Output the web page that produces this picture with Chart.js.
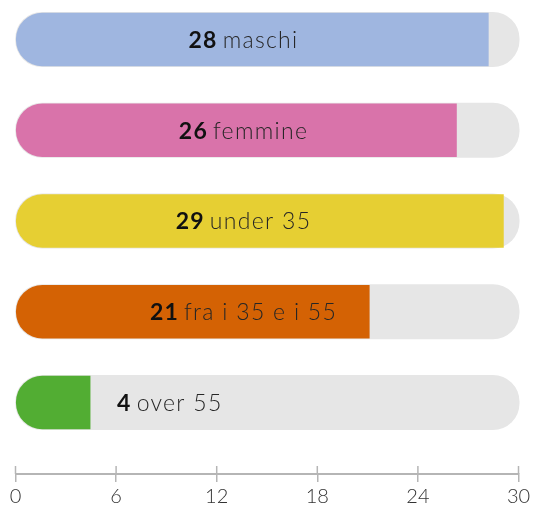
<!DOCTYPE html>
<html>
<head>
<meta charset="utf-8">
<script src="https://cdn.jsdelivr.net/npm/chart.js@4"></script>
<style>
    html, body { margin: 0; padding: 0; background: #ffffff; }
    #wrap { width: 534px; height: 508px; }
</style>
</head>
<body>
<div id="wrap"><canvas id="chart"></canvas></div>
<script>
// Data
const categories = ['maschi', 'femmine', 'under 35', 'fra i 35 e i 55', 'over 55'];
const values = [28.2, 26.3, 29.1, 21.1, 4.45];
const colors = ['#9fb6e0', '#d973aa', '#e6cf33', '#d46204', '#52ad33'];
const maxValue = 30;
const tickStep = 6;

const FONT = 'Lato, "Noto Sans", sans-serif';
const NUM_FONT = '700 23px ' + FONT;
const CAT_FONT = '300 23px ' + FONT;

// Labels inside the bars: bold rounded number + light category name
const barLabels = {
    id: 'barLabels',
    afterDatasetsDraw(chart) {
        const ctx = chart.ctx;
        const x = chart.scales.x;
        const y = chart.scales.y;
        ctx.save();
        ctx.textBaseline = 'middle';
        categories.forEach((cat, i) => {
            const num = String(Math.round(values[i]));
            ctx.letterSpacing = '1.2px';
            ctx.font = NUM_FONT;
            const wNum = ctx.measureText(num).width + 5;
            ctx.letterSpacing = '1.3px';
            ctx.font = CAT_FONT;
            const wCat = ctx.measureText(cat).width;
            const total = wNum + wCat;
            const end = x.getPixelForValue(values[i]);
            let start = x.getPixelForValue(13.6) - total / 2;
            if (end - x.left < total + 40) start = end + 27;
            const cy = y.getPixelForValue(i) + 1;
            ctx.fillStyle = '#111111';
            ctx.letterSpacing = '1.2px';
            ctx.font = NUM_FONT;
            ctx.fillText(num, start, cy);
            ctx.fillStyle = '#262626';
            ctx.letterSpacing = '1.3px';
            ctx.font = CAT_FONT;
            ctx.fillText(cat, start + wNum, cy);
        });
        ctx.restore();
    }
};

// Tick marks crossing the axis line (upper half)
const axisTicksUp = {
    id: 'axisTicksUp',
    afterDraw(chart) {
        const ctx = chart.ctx;
        const x = chart.scales.x;
        ctx.save();
        ctx.strokeStyle = '#b5b5b5';
        ctx.lineWidth = 1.5;
        x.ticks.forEach(t => {
            const px = x.getPixelForValue(t.value);
            ctx.beginPath();
            ctx.moveTo(px, x.top - 8);
            ctx.lineTo(px, x.top);
            ctx.stroke();
        });
        ctx.restore();
    }
};

const positions = categories.map((c, i) => i);

new Chart(document.getElementById('chart'), {
    type: 'bar',
    data: {
        datasets: [
            {
                data: positions.map(i => ({ x: values[i], y: i })),
                backgroundColor: colors,
                borderSkipped: false,
                borderRadius: { topLeft: 27, bottomLeft: 27, topRight: 0, bottomRight: 0 },
                barThickness: 53,
                grouped: false,
                order: 0,
                clip: false
            },
            {
                data: positions.map(i => ({ x: maxValue, y: i })),
                backgroundColor: '#e6e6e6',
                borderSkipped: false,
                borderRadius: 27,
                barThickness: 53,
                inflateAmount: 1,
                grouped: false,
                order: 1,
                clip: false
            }
        ]
    },
    options: {
        indexAxis: 'y',
        responsive: true,
        maintainAspectRatio: false,
        animation: false,
        layout: { padding: { left: 15.5, right: 15.5, top: 0, bottom: 0 } },
        plugins: {
            legend: { display: false },
            tooltip: { enabled: false }
        },
        scales: {
            y: {
                type: 'linear',
                reverse: true,
                offset: false,
                min: -0.435,
                max: 4.788,
                display: false
            },
            x: {
                type: 'linear',
                min: 0,
                max: maxValue,
                afterFit(scale) { scale.height = 34; },
                grid: {
                    drawOnChartArea: false,
                    drawTicks: true,
                    tickLength: 8,
                    color: '#b5b5b5',
                    lineWidth: 1.5
                },
                border: { display: true, color: '#b5b5b5', width: 2 },
                ticks: {
                    stepSize: tickStep,
                    padding: 3,
                    color: '#333333',
                    maxRotation: 0,
                    font: { family: FONT, size: 20, weight: 300 }
                }
            }
        }
    },
    plugins: [barLabels, axisTicksUp]
});
</script>
</body>
</html>
